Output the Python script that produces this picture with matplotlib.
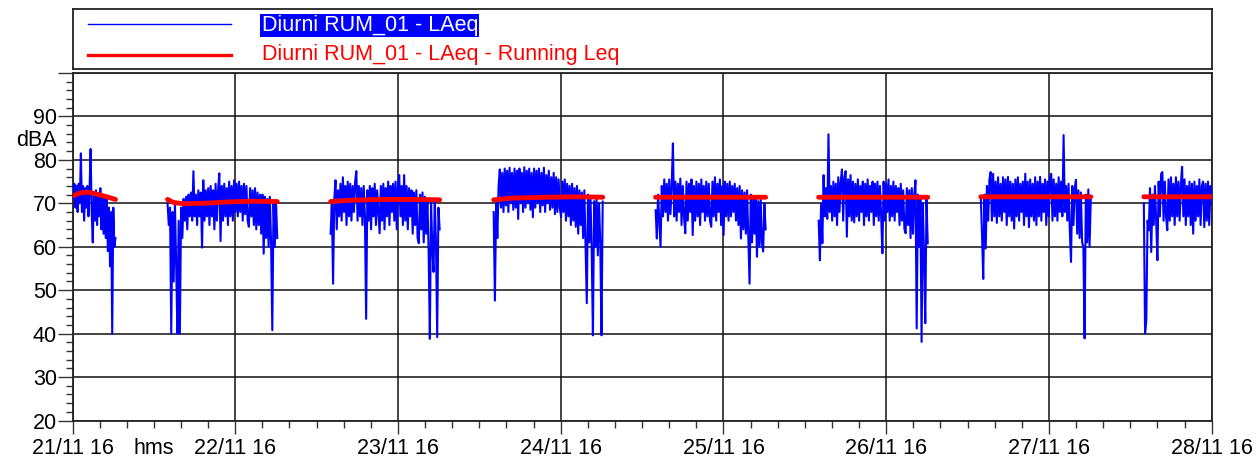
import numpy as np
import matplotlib
matplotlib.use("Agg")
import matplotlib.pyplot as plt
from matplotlib.ticker import MultipleLocator, FixedLocator

plt.rcParams['font.family'] = ['Liberation Sans', 'DejaVu Sans']

# ---------------- data ----------------
day_labels = ["21/11 16", "22/11 16", "23/11 16", "24/11 16",
              "25/11 16", "26/11 16", "27/11 16", "28/11 16"]
series_blue = "Diurni RUM_01 - LAeq"
series_red = "Diurni RUM_01 - LAeq - Running Leq"

# daytime periods (days since 21/11 16)
seg_start = [0.005, 0.584, 1.586, 2.588, 3.583, 4.585, 5.581, 6.583]
seg_end = [0.264, 1.258, 2.256, 3.258, 4.259, 5.255, 6.257, 7.000]

laeq_0 = [71, 74.5, 69, 74, 68, 74.5, 70, 81.5, 68, 74, 66, 73.5, 69, 74, 67, 73,
          82.5, 68, 61, 72.5, 66, 73, 65, 72, 67, 73.5, 64, 72, 63, 71.5, 62, 71,
          59, 69, 55.5, 68, 40, 69, 60, 62]
laeq_1 = [70, 65, 69, 40, 68, 52, 70, 56, 40, 66, 40, 69, 62, 71, 66, 71.5, 64, 72,
          67, 72.5, 66, 77.4, 67, 72, 65, 73, 67, 72.5, 59.8, 75.3, 66, 73, 67, 73.5,
          65, 74, 67, 73, 64, 74.5, 66, 73, 76.9, 61.3, 74, 66, 74.5, 67, 73.5, 65,
          75, 67, 74, 66, 75.3, 68, 74.5, 67, 75, 68, 74, 66, 74.5, 67.5, 74, 66,
          64.6, 73.5, 67, 73, 65, 73.5, 64, 72.5, 65, 72, 63, 72, 58.4, 71.5, 62, 71,
          60, 71.5, 61, 40.8, 70, 60, 70.5, 62]
laeq_2 = [63, 70, 51.5, 71, 75.3, 64, 73, 67, 74.5, 66, 76, 68, 74, 65, 75, 67, 74.5,
          66, 74, 68, 75, 77.4, 66, 74, 67, 73.5, 65, 74, 67, 43.4, 73, 66, 74, 64,
          73.5, 67, 74.5, 65, 73, 68, 63.1, 74, 66, 74.5, 64, 73.5, 67, 75, 65, 74,
          68, 74.5, 66, 75, 64, 74, 76.5, 67, 74, 65, 76.5, 66, 74, 64, 73.5, 67, 73,
          63, 72.5, 65, 73, 62, 60.8, 72, 64, 72.5, 61, 71.5, 63, 71, 59, 38.8, 70,
          60, 54.2, 70.5, 61, 39.2, 69, 64]
laeq_3 = [68, 47.6, 70, 62, 74, 77.8, 69, 77, 68, 78, 69.5, 77.5, 68, 78.2, 70, 77,
          68.5, 78, 69, 77.5, 66.4, 78, 70, 77, 68, 78.3, 69, 77.5, 70, 78, 68.5, 77,
          66.8, 78, 69, 77.5, 70, 78, 68, 77, 69.5, 78.2, 68, 76.5, 70, 77.5, 68.5,
          76, 69, 77, 67.5, 76, 68, 75.5, 69, 66.8, 75, 68, 75.5, 66, 74.5, 67, 74,
          65, 74.5, 66, 73.5, 64.6, 74, 63, 73, 65, 72.5, 62, 73, 60, 47, 72, 61,
          71.5, 59, 39.6, 70.5, 60, 71, 58, 70, 61, 39.6, 70.4]
laeq_4 = [68.4, 61.9, 72, 66, 60, 74, 67, 75.5, 68, 74.5, 66, 75.5, 67.5, 74, 83.8,
          67, 75, 66, 74.5, 68, 75.7, 65, 74, 67, 63.1, 75, 66, 74.5, 68, 75.5, 62.7,
          74, 66, 75, 67, 74.5, 65, 75.5, 68, 74, 66, 75, 67, 74.5, 66, 64.6, 75, 67,
          76, 66, 74.5, 68, 75.5, 65, 74, 62.7, 75, 67, 74.5, 66, 75, 67, 74, 68,
          74.5, 66, 73.5, 65, 74, 61.9, 73, 64, 72.5, 63, 73, 62, 51.5, 72, 61, 71.5,
          63, 71, 57.7, 70.5, 60, 71, 61, 58.9, 70, 64]
laeq_5 = [66, 56.9, 70, 60.8, 76.5, 67, 73.5, 66.4, 85.9, 68, 74, 66, 75, 67, 74.5,
          65, 76, 68, 75, 77.8, 66, 76, 77.4, 62.3, 75.5, 67, 76.5, 66, 75, 65.6,
          74.5, 67, 75.5, 66, 74, 68, 75, 65, 74.5, 67, 75.5, 66, 74, 68, 75, 65,
          74.5, 67, 75, 66, 74, 67, 58.5, 75, 66, 74.5, 68, 75.5, 66, 74, 67, 75, 66,
          74, 68, 73.5, 65, 74.5, 66, 73, 64, 63.1, 73.5, 65, 73, 62, 73.5, 63, 72,
          75.3, 41.2, 72, 60, 71.5, 38.1, 70, 58, 42.4, 71, 60.8]
laeq_6 = [71.5, 63, 52.6, 72, 59.6, 74, 66, 75.5, 77.2, 66, 76.8, 67, 75, 65.5, 76,
          67, 74.5, 66, 76, 68, 75.5, 65, 76.1, 67, 75, 66, 74.5, 64.2, 75.5, 67, 76,
          66, 74.5, 68, 75, 65, 76.8, 67, 75, 64.5, 75.5, 67, 74.5, 66, 76, 65, 75,
          67, 76.1, 66, 74.5, 68, 75.5, 65, 75, 67, 76, 76.8, 66, 75.5, 67, 74.5, 66,
          76, 68, 75, 67, 85.7, 68, 74, 66, 74.5, 64, 56.5, 74, 65, 73.5, 75.4, 63,
          73, 62, 72.5, 61, 60, 38.9, 72, 61, 73.2, 60, 71]
laeq_7 = [70, 40, 43, 66, 63.8, 73.5, 58.8, 72, 65, 74, 66, 56.9, 75, 67, 76.8, 77.2,
          66, 75, 67, 63.8, 75.5, 66, 76, 67, 74.5, 65, 76, 67, 75, 66, 74.5, 78.4,
          67, 75.5, 65, 74, 67, 75, 65, 74.5, 63, 75, 66, 74, 67, 75.5, 65, 74, 75,
          64.5, 74.5, 66, 75, 65, 74, 70]

run_t = [[0.005, 0.05, 0.09, 0.14, 0.20, 0.264],
         [0.584, 0.62, 0.68, 0.80, 0.95, 1.10, 1.258],
         [1.586, 1.70, 1.90, 2.10, 2.256],
         [2.588, 2.70, 2.90, 3.10, 3.258],
         [3.583, 4.259],
         [4.585, 5.255],
         [5.581, 6.257],
         [6.583, 7.000]]
run_v = [[71.8, 72.4, 72.6, 72.2, 71.6, 70.9],
         [70.9, 70.2, 69.9, 70.0, 70.3, 70.5, 70.4],
         [70.4, 70.7, 70.9, 70.9, 70.8],
         [70.8, 71.2, 71.4, 71.5, 71.4],
         [71.4, 71.4],
         [71.4, 71.4],
         [71.5, 71.5],
         [71.5, 71.5]]

laeq_segments = [laeq_0, laeq_1, laeq_2, laeq_3, laeq_4, laeq_5, laeq_6, laeq_7]

# ---------------- build series with gaps ----------------
bx, by, rx, ry = [], [], [], []
for s, e, vals, rt, rv in zip(seg_start, seg_end, laeq_segments, run_t, run_v):
    bx.extend(np.linspace(s, e, len(vals)).tolist() + [np.nan])
    by.extend(list(vals) + [np.nan])
    rx.extend(list(rt) + [np.nan])
    ry.extend(list(rv) + [np.nan])

# ---------------- figure ----------------
W, H = 1258, 465
fig = plt.figure(figsize=(W / 100, H / 100), dpi=100)
fig.patch.set_facecolor('white')

L, R, T, B = 72.5, 1211.7, 73.0, 420.5
ax = fig.add_axes([L / W, (H - B) / H, (R - L) / W, (B - T) / H])

ln_blue, = ax.plot(bx, by, color='#0000FF', lw=1.5, zorder=3)
ln_red, = ax.plot(rx, ry, color='#FF0000', lw=3.5, solid_capstyle='round', zorder=4)

ax.set_xlim(0, 7)
ax.set_ylim(20, 100)

ax.xaxis.set_major_locator(FixedLocator(range(len(day_labels))))
ax.set_xticklabels(day_labels)
ax.xaxis.set_minor_locator(MultipleLocator(1 / 6))
ax.yaxis.set_minor_locator(MultipleLocator(2))
ax.set_yticks(range(20, 101, 10))
ax.set_yticklabels([str(v) if v < 100 else '' for v in range(20, 101, 10)])

ax.tick_params(axis='x', which='major', direction='out', length=9.5, width=1.0,
               pad=3, labelsize=15.5, color='#333333')
ax.tick_params(axis='x', which='minor', direction='out', length=5, width=1.0,
               color='#333333')
ax.tick_params(axis='y', which='major', direction='out', length=10.8, width=1.0,
               pad=0.3, labelsize=15.5, color='#333333')
ax.tick_params(axis='y', which='minor', direction='out', length=4.8, width=1.0,
               color='#333333')

ax.grid(True, which='major', color='#111111', lw=1.1, zorder=1)
ax.set_axisbelow(True)
for sp in ax.spines.values():
    sp.set_color('#222222')
    sp.set_linewidth(1.3)

ax.annotate('hms', xy=(0.5, 0), xycoords=('data', 'axes fraction'),
            xytext=(0, -(9.5 + 3)), textcoords='offset points',
            ha='center', va='top', fontsize=15.5)
ax.annotate('dBA', xy=(0, 83.3), xycoords=('axes fraction', 'data'),
            xytext=(-(10.8 + 0.3), 0), textcoords='offset points',
            ha='right', va='baseline', fontsize=15.5)

# ---------------- legend box ----------------
LT, LB = 9.5, 69.5
lax = fig.add_axes([73.0 / W, (H - LB) / H, (R - 73.0) / W, (LB - LT) / H])
lax.set_xlim(73.0, R)
lax.set_ylim(LB, LT)
lax.set_xticks([])
lax.set_yticks([])
for sp in lax.spines.values():
    sp.set_color('#222222')
    sp.set_linewidth(1.3)
lax.plot([88, 231], [24.3, 24.3], color=ln_blue.get_color(), lw=1.0)
lax.plot([88, 231], [55, 55], color=ln_red.get_color(), lw=2.4)
lax.text(261.7, 31, series_blue, fontsize=15.5, color='white', ha='left', va='baseline',
         bbox=dict(boxstyle='square,pad=0.06', facecolor='#0000FF', edgecolor='none'))
lax.text(261.7, 60, series_red, fontsize=15.5, color='#FF0000', ha='left', va='baseline')

fig.savefig('out.png', dpi=100, facecolor='white')
